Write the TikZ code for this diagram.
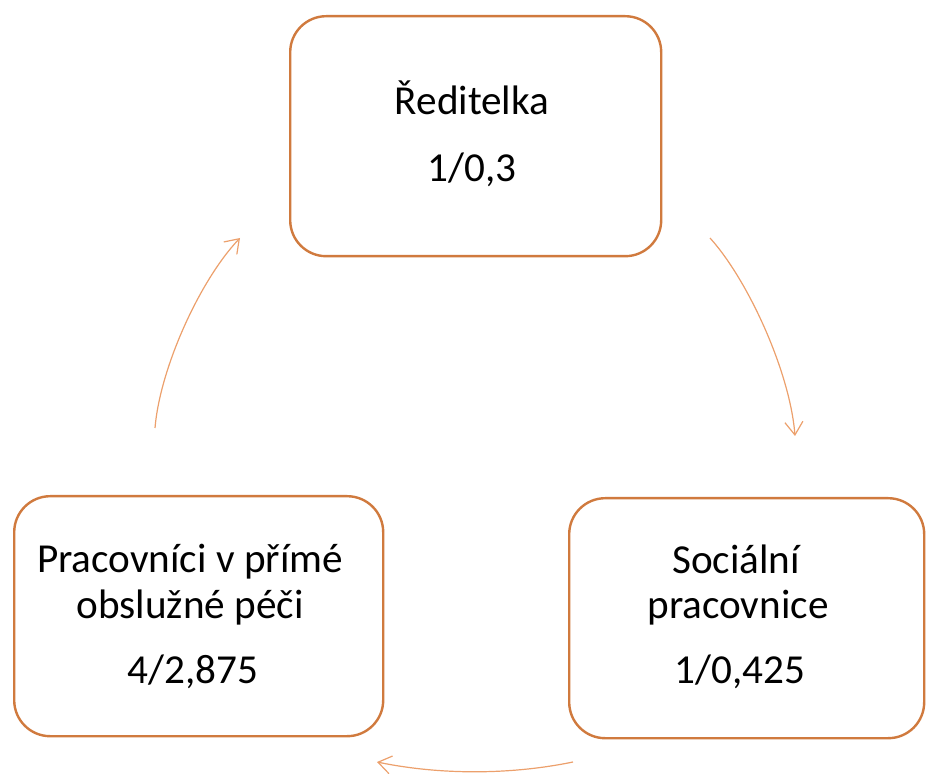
\documentclass[tikz,border=0pt]{standalone}
\usepackage{fontspec}
\setmainfont{Carlito}
\usetikzlibrary{arrows.meta}
\definecolor{boxor}{RGB}{208,122,62}
\definecolor{arrowor}{RGB}{236,160,108}
\begin{document}
\begin{tikzpicture}[x=0.5pt,y=-0.5pt,
  box/.style={draw=boxor,line width=1.2pt,rounded corners=18pt,anchor=north west,minimum height=120pt,inner sep=0pt},
  lbl/.style={anchor=base,inner sep=0pt,font=\fontsize{20.6}{24}\selectfont},
  conn/.style={draw=arrowor,line width=0.6pt,-{Straight Barb[length=6.5pt,width=9pt]}}]
\useasboundingbox (0,0) rectangle (926,774);
\node[box,minimum width=185.5pt] (top) at (289,15) {};
\node[box,minimum width=184.5pt] (left) at (13,495) {};
\node[box,minimum width=177.5pt] (right) at (568,497) {};
% texts
\node[lbl] (t1) at (472,115) {Ředitelka};
\node[lbl] (t2) at (472,182) {1/0,3};
\node[lbl] (l1) at (190,573) {Pracovníci v přímé};
\node[lbl] (l2) at (190,618) {obslužné péči};
\node[lbl] (l3) at (193,683) {4/2,875};
\node[lbl] (r1) at (736,574) {Sociální};
\node[lbl] (r2) at (738,618) {pracovnice};
\node[lbl] (r3) at (740,683) {1/0,425};
% connector ends
\coordinate (a1) at (710,238);
\coordinate (a2) at (795,436);
\coordinate (b1) at (573,762);
\coordinate (b2) at (377,762);
\coordinate (c1) at (155,428);
\coordinate (c2) at (240,238);
\draw[conn] (a1) .. controls (748,280) and (790,372) .. (a2);
\draw[conn] (b1) .. controls (510,775) and (440,775) .. (b2);
\draw[conn] (c1) .. controls (160,368) and (200,280) .. (c2);
\end{tikzpicture}
\end{document}
